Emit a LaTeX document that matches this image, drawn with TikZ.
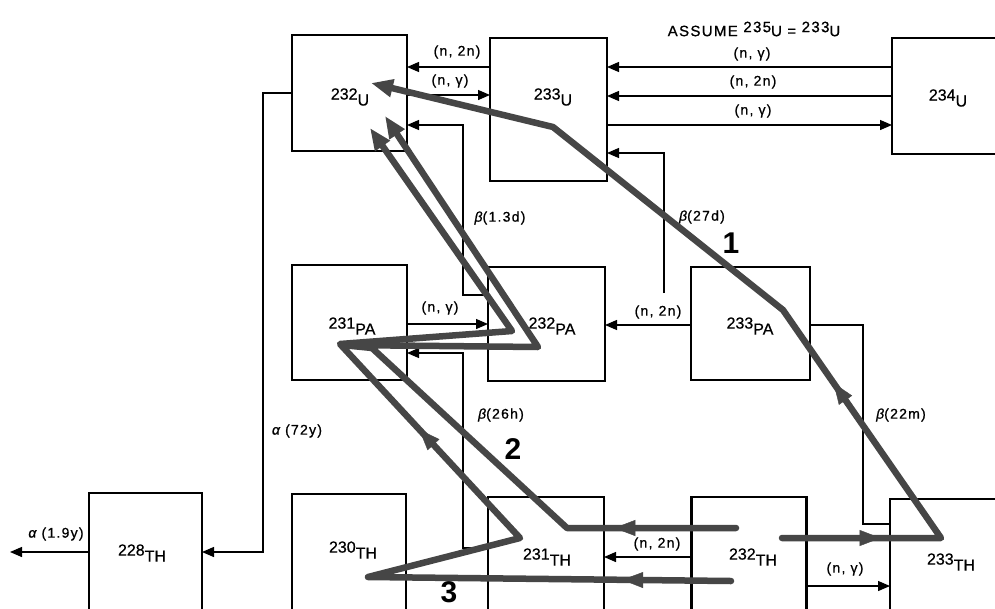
\documentclass[tikz,border=0pt]{standalone}
\usepackage{fontspec}
\setmainfont{Liberation Sans}
\newfontfamily\lblfont[LetterSpace=9, FakeBold=0.8]{Liberation Sans}
\newfontfamily\isofont[FakeBold=0.6]{Liberation Sans}
\usetikzlibrary{arrows.meta,decorations.markings}
\definecolor{gpath}{HTML}{464646}
\newcommand{\grk}[1]{{\itshape #1}}
\tikzset{
  box/.style={draw, line width=2.9pt, rectangle, inner sep=0pt, outer sep=0pt},
  conn/.style={line width=1.3pt, -{Triangle[length=12pt,width=10pt]}},
  plainline/.style={line width=1.3pt},
  lbl/.style={font=\fontsize{14}{14}\lblfont, inner sep=0pt},
  iso/.style={font=\fontsize{16}{16}\isofont, inner sep=0pt},
  bignum/.style={font=\fontsize{30}{30}\selectfont\bfseries, inner sep=0pt},
  gp/.style={draw=gpath, line width=6.5pt, line join=round, line cap=round, -{Triangle[length=22pt,width=17pt]}},
  midarr/.style={color=gpath, postaction={decorate}, decoration={markings, mark=at position #1 with {\arrow{Triangle[length=21pt,width=16pt]}}}}
}
\begin{document}
\begin{tikzpicture}[x=1pt,y=-1pt]
\clip (0,0) rectangle (995,608);
\fill[white] (0,0) rectangle (995,608);
% boxes
\node[box, minimum width=115pt, minimum height=116pt] (u232) at (349.5,93) {};
\node[box, minimum width=117pt, minimum height=143pt] (u233) at (548.5,109.5) {};
\node[box, minimum width=118pt, minimum height=116pt] (u234) at (951,96) {};
\node[box, minimum width=115pt, minimum height=115pt] (pa231) at (349.5,322.5) {};
\node[box, minimum width=117pt, minimum height=114pt] (pa232) at (546.5,324) {};
\node[box, minimum width=119pt, minimum height=113pt] (pa233) at (750.5,323.5) {};
\node[box, minimum width=113pt, minimum height=140pt] (th228) at (145.5,563) {};
\node[box, minimum width=114pt, minimum height=140pt] (th230) at (349,564) {};
\node[box, minimum width=116pt, minimum height=140pt] (th231) at (546,567) {};
\node[box, minimum width=115pt, minimum height=140pt] (th232) at (749,567) {};
\node[box, minimum width=120pt, minimum height=140pt] (th233) at (950,569) {};
% box labels
\node[iso] (lu232) at (350,97) {232\raisebox{-6pt}{U}};
\node[iso] (lu233) at (553,97) {233\raisebox{-6pt}{U}};
\node[iso] (lu234) at (948,98) {234\raisebox{-6pt}{U}};
\node[iso] (lpa231) at (352,326) {231\raisebox{-6pt}{PA}};
\node[iso] (lpa232) at (552,326) {232\raisebox{-6pt}{PA}};
\node[iso] (lpa233) at (750,326) {233\raisebox{-6pt}{PA}};
\node[iso] (lth228) at (142,553) {228\raisebox{-6pt}{TH}};
\node[iso] (lth230) at (353,550) {230\raisebox{-6pt}{TH}};
\node[iso] (lth231) at (547,557) {231\raisebox{-6pt}{TH}};
\node[iso] (lth232) at (753,557) {232\raisebox{-6pt}{TH}};
\node[iso] (lth233) at (951,562) {233\raisebox{-6pt}{TH}};
% thin connectors
\draw[conn] (u233.west |- 0,67) -- (u232.east |- 0,67);
\draw[conn] (u232.east |- 0,95) -- (u233.west |- 0,95);
\draw[conn] (u234.west |- 0,67) -- (u233.east |- 0,67);
\draw[conn] (u234.west |- 0,96) -- (u233.east |- 0,96);
\draw[conn] (u233.east |- 0,125) -- (u234.west |- 0,125);
\coordinate (b27s) at (664,293);
\draw[conn] (b27s) |- (u233.east |- 0,153);
\draw[conn] (pa232.west |- 0,295) -- (463,295) -- (463,125) -- (u232.east |- 0,125);
\draw[conn] (pa231.east |- 0,324) -- (pa232.west |- 0,324);
\draw[conn] (pa233.west |- 0,325) -- (pa232.east |- 0,325);
\draw[conn] (th231.west |- 0,548) -- (463,548) -- (463,353) -- (pa231.east |- 0,353);
\draw[plainline] (th233.west |- 0,524) -- (863,524) -- (863,325) -- (pa233.east |- 0,325);
\draw[conn] (th232.west |- 0,557) -- (th231.east |- 0,557);
\draw[conn] (th232.east |- 0,586) -- (th233.west |- 0,586);
\draw[conn] (u232.west |- 0,93) -- (263,93) -- (263,552) -- (th228.east |- 0,552);
\coordinate (aout) at (10,552);
\draw[conn] (th228.west |- 0,552) -- (aout);
% connector labels
\node[lbl] (t1) at (457,52) {(n, 2n)};
\node[lbl] (t2) at (450,81) {(n, γ)};
\node[lbl] (t3) at (752,54) {(n, γ)};
\node[lbl] (t4) at (753,82) {(n, 2n)};
\node[lbl] (t5) at (753,111) {(n, γ)};
\node[font=\fontsize{15}{15}\lblfont, inner sep=0pt] (assume) at (754,29) {ASSUME \raisebox{4pt}{235}U = \raisebox{4pt}{233}U};
\node[lbl] (t6) at (500,218) {\grk{β}(1.3d)};
\node[lbl] (t7) at (440,308) {(n, γ)};
\node[lbl] (t8) at (658,312) {(n, 2n)};
\node[lbl] (t9) at (702,217) {\grk{β}(27d)};
\node[lbl] (t10) at (901,415) {\grk{β}(22m)};
\node[lbl] (t11) at (501,415) {\grk{β}(26h)};
\node[lbl] (t12) at (297,431) {\grk{α} (72y)};
\node[lbl] (t13) at (56,534) {\grk{α} (1.9y)};
\node[lbl] (t14) at (657,544) {(n, 2n)};
\node[lbl] (t15) at (845,569) {(n, γ)};
\node[bignum] (n1) at (731,243) {1};
\node[bignum] (n2) at (513,449) {2};
\node[bignum] (n3) at (449,592) {3};
% gray paths
\coordinate (p1a) at (782,538);
\coordinate (p1b) at (941,538);
\coordinate (p1c) at (783,310);
\coordinate (p1d) at (553,127);
\coordinate (p1e) at (371,83);
\draw[gp] (p1a) -- (p1b) -- (p1c) -- (p1d) -- (p1e);
\path[midarr=0.62] (p1a) -- (p1b);
\path[midarr=0.68] (p1b) -- (p1c);
\coordinate (p2a) at (736,528);
\coordinate (p2b) at (567,528);
\coordinate (p2c) at (372,348);
\coordinate (p2d) at (342,345);
\coordinate (p2e) at (538,347);
\coordinate (p2f) at (385,116);
\draw[gp] (p2a) -- (p2b) -- (p2c) -- (p2d) -- (p2e) -- (p2f);
\path[midarr=0.72] (p2a) -- (p2b);
\coordinate (p3a) at (731,581);
\coordinate (p3b) at (368,577);
\coordinate (p3c) at (520,538);
\coordinate (p3d) at (340,344);
\coordinate (p3e) at (512,331);
\coordinate (p3f) at (370,128);
\draw[gp] (p3a) -- (p3b) -- (p3c) -- (p3d) -- (p3e) -- (p3f);
\path[midarr=0.3] (p3a) -- (p3b);
\path[midarr=0.56] (p3c) -- (p3d);
\end{tikzpicture}
\end{document}
